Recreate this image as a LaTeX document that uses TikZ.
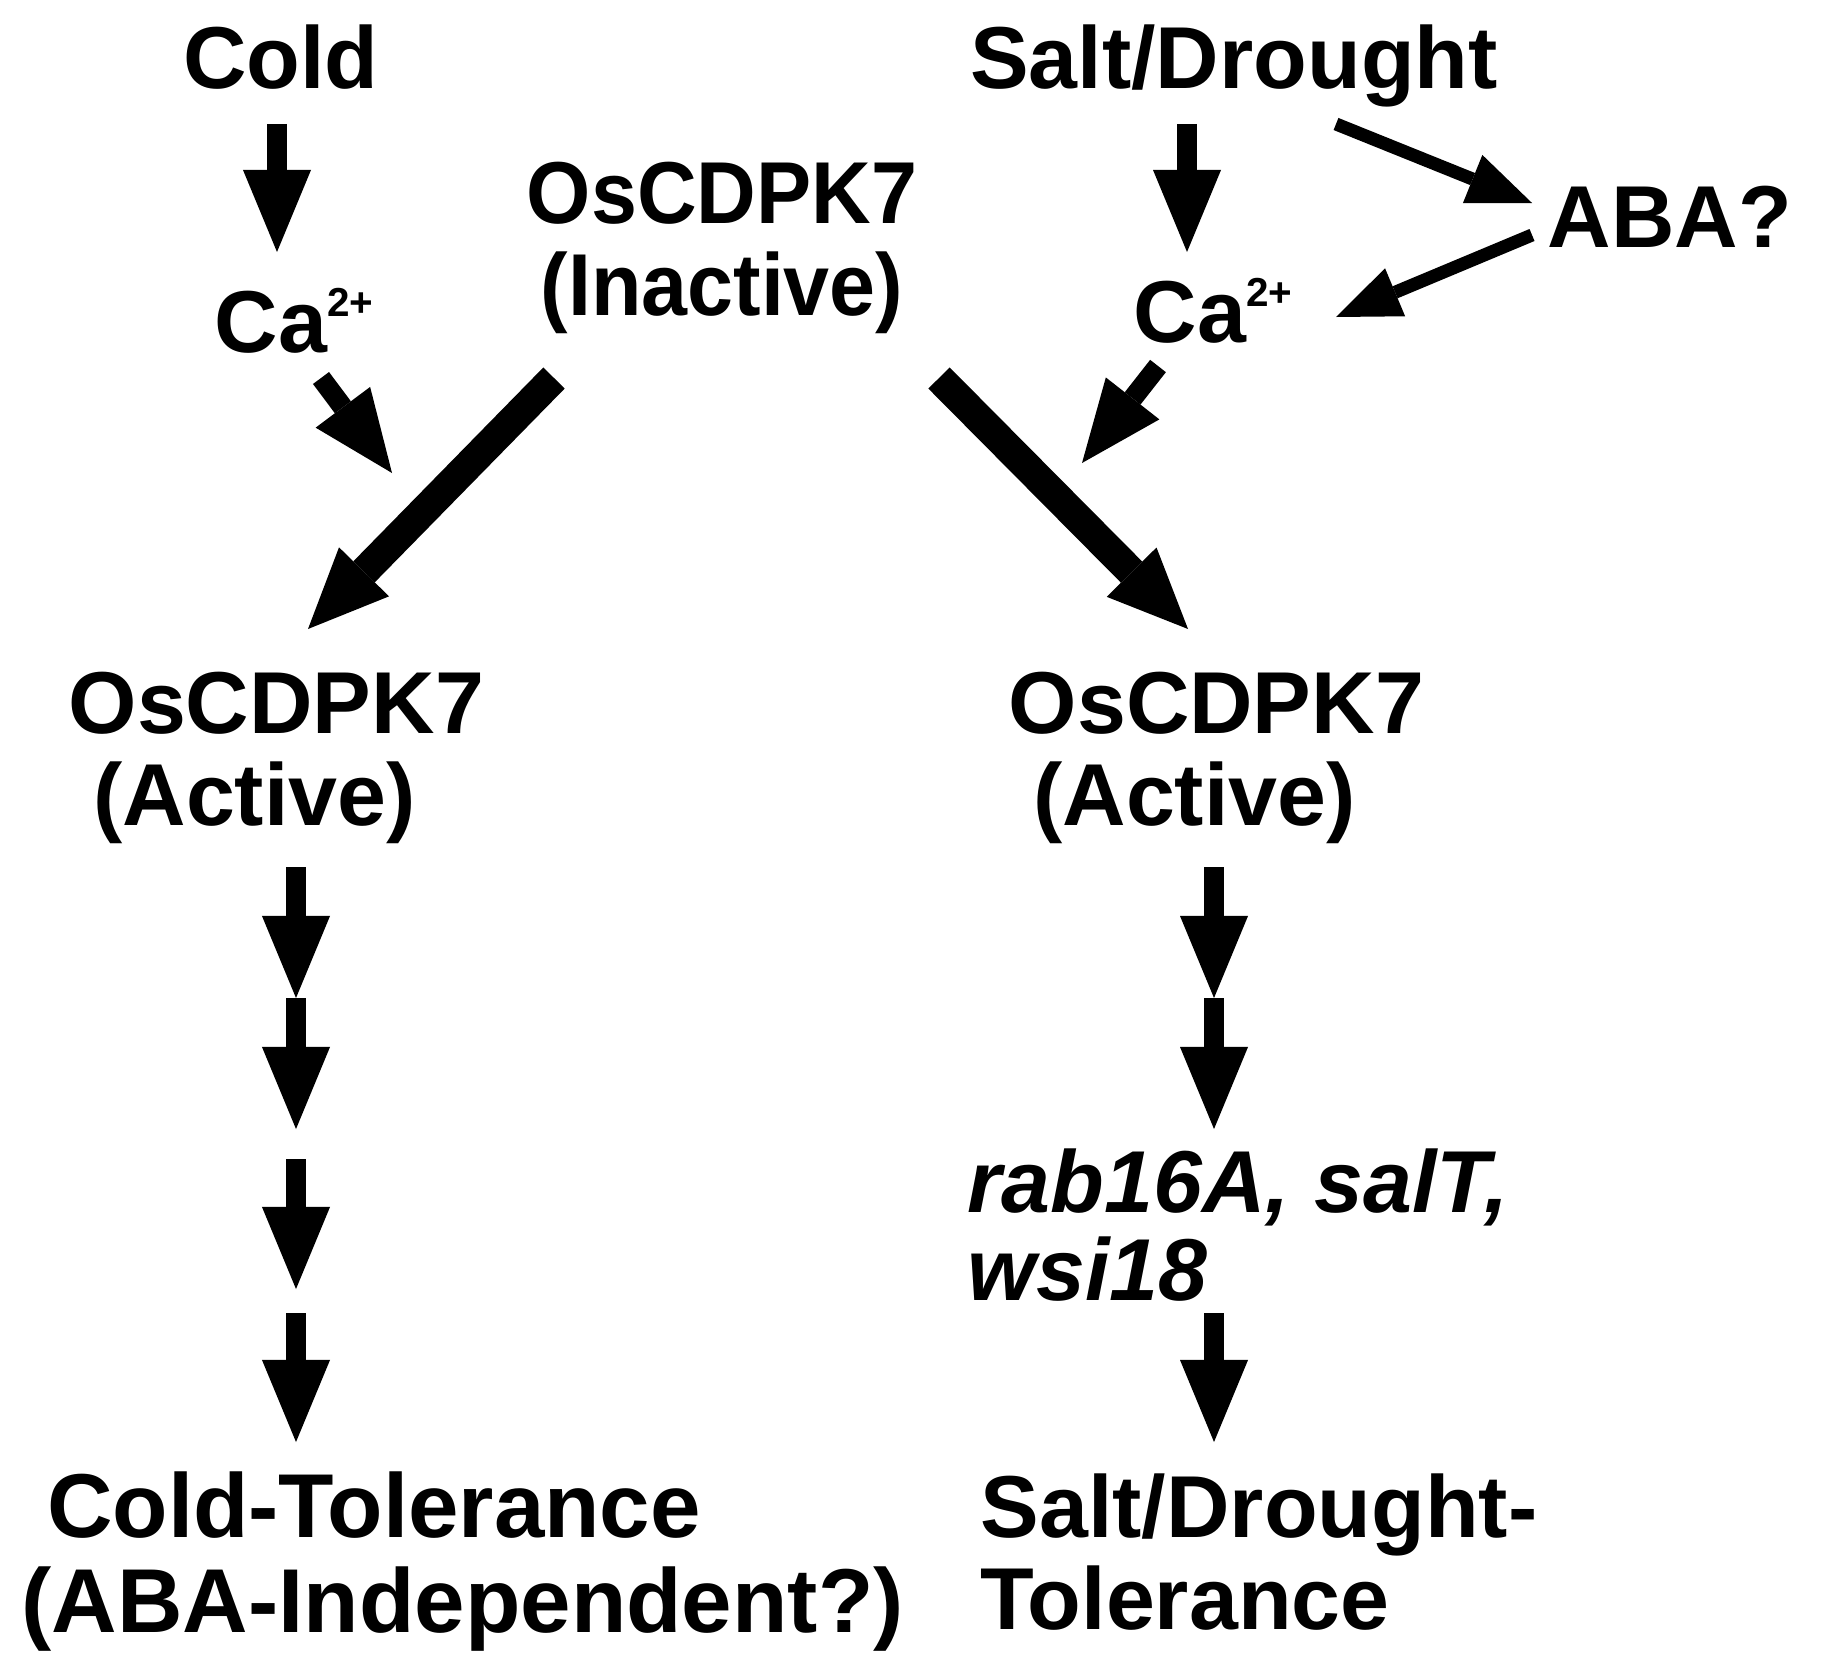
\documentclass[tikz,border=0pt]{standalone}
\usepackage{fontspec}
\setmainfont{Liberation Sans}
\newfontfamily\narrowsf[FakeStretch=0.94]{Liberation Sans}
\usetikzlibrary{arrows.meta}
\newcommand{\chg}[1]{\raisebox{10pt}{\fontsize{11.5}{12}\selectfont #1}}
\tikzset{
  lbl/.style={inner sep=0, font=\fontsize{25}{26}\selectfont\bfseries},
  stem/.style={line width=2mm, -{Triangle[length=8.2mm,width=6.8mm,line width=0pt]}},
  bigstem/.style={line width=3mm, -{Triangle[length=8mm,width=7mm,line width=0pt]}},
  thinstem/.style={line width=1.3mm, -{Triangle[length=6.4mm,width=5.2mm,line width=0pt]}}
}

\begin{document}
\begin{tikzpicture}[x=0.01cm, y=-0.01cm]
  \fill[white] (0,0) rectangle (1834,1679);

  % stimuli and the inactive kinase
  \node[lbl, anchor=base] (cold) at (281,89) {Cold};
  \node[lbl, anchor=base] (salt) at (1234,89) {Salt/Drought};
  \node[lbl, anchor=base, align=center, font=\fontsize{25}{26}\selectfont\narrowsf\bfseries] (inact) at (722,315) {OsCDPK7\\(Inactive)};
  \node[lbl, anchor=base] (aba) at (1670,248) {ABA?};
  \node[lbl, anchor=base west] (caL) at (214,352) {Ca\chg{2+}};
  \node[lbl, anchor=base west] (caR) at (1133,342) {Ca\chg{2+}};

  % active kinase, both branches
  \node[lbl, anchor=base west, align=left] (actL) at (68,825) {OsCDPK7\\\hspace*{.28em}(Active)};
  \node[lbl, anchor=base west, align=left] (actR) at (1008,825) {OsCDPK7\\\hspace*{.28em}(Active)};

  % targets and outcomes
  \node[lbl, anchor=base west, align=left, font=\fontsize{25}{25}\selectfont\bfseries\itshape] (genes) at (967,1300) {rab16A, salT,\\wsi18};
  \node[lbl, anchor=base west, align=left, font=\fontsize{25.8}{27}\selectfont\bfseries] (coldtol) at (21,1632) {\hspace*{.28em}Cold-Tolerance\\(ABA-Independent?)};
  \node[lbl, anchor=base west, align=left] (salttol) at (980,1629) {Salt/Drought-\\Tolerance};

  % free ends of the arrows
  \coordinate (c0) at (277,124);  \coordinate (c1) at (277,252);
  \coordinate (s0) at (1187,124); \coordinate (s1) at (1187,252);
  \coordinate (a0) at (1336,124); \coordinate (a1) at (1532,203);
  \coordinate (a2) at (1532,235); \coordinate (a3) at (1336,317);
  \coordinate (k0) at (321,378);  \coordinate (k1) at (392,473);
  \coordinate (k2) at (1158,366); \coordinate (k3) at (1082,463);
  \coordinate (i0) at (554,378);  \coordinate (i1) at (308,629);
  \coordinate (i2) at (939,378);  \coordinate (i3) at (1188,629);
  \foreach \n/\y in {0/867,1/998,2/1129,3/1159,4/1289,5/1313,6/1442}{
    \coordinate (l\n) at (296,\y);
    \coordinate (r\n) at (1214,\y);
  }

  % upper arrows
  \draw[stem] (c0) -- (c1);
  \draw[stem] (s0) -- (s1);
  \draw[thinstem] (a0) -- (a1);
  \draw[thinstem] (a2) -- (a3);
  \draw[stem] (k0) -- (k1);
  \draw[stem] (k2) -- (k3);
  \draw[bigstem] (i0) -- (i1);
  \draw[bigstem] (i2) -- (i3);

  % the two cascades
  \draw[stem] (l0) -- (l1);
  \draw[stem] (l1) -- (l2);
  \draw[stem] (l3) -- (l4);
  \draw[stem] (l5) -- (l6);
  \draw[stem] (r0) -- (r1);
  \draw[stem] (r1) -- (r2);
  \draw[stem] (r5) -- (r6);
\end{tikzpicture}
\end{document}
